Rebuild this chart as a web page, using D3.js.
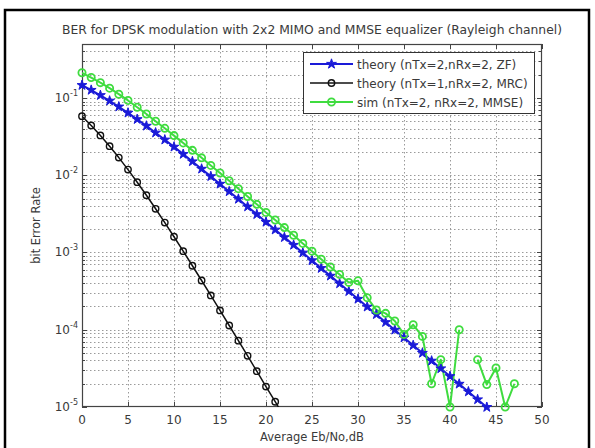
<!DOCTYPE html>
<html><head><meta charset="utf-8">
<script src="https://cdn.jsdelivr.net/npm/d3@7"></script>
<style>
body{margin:0;background:#fff}
svg{display:block}
text{font-family:"DejaVu Sans","Liberation Sans",Arial,sans-serif;fill:#3a3a3a}
</style>
</head><body>
<svg id="chart" width="595" height="448"></svg>
<script>
// ---- data ----
const titleText = "BER for DPSK modulation with 2x2 MIMO and MMSE equalizer (Rayleigh channel)";
const xLabelText = "Average Eb/No,dB";
const yLabelText = "bit Error Rate";
const seriesNames = ["theory (nTx=2,nRx=2, ZF)", "theory (nTx=1,nRx=2, MRC)", "sim (nTx=2, nRx=2, MMSE)"];
const seriesColors = ["#1a1ad8", "#111111", "#3fdc3f"];

const ebnoZF = [0,1,2,3,4,5,6,7,8,9,10,11,12,13,14,15,16,17,18,19,20,21,22,23,24,25,26,27,28,29,30,31,32,33,34,35,36,37,38,39,40,41,42,43,44];
const berZF = [0.1464,0.1267,0.1085,0.0919,0.0771,0.0642,0.0530,0.0435,0.0355,0.0288,0.0233,0.01875,0.01507,0.01208,0.00967,0.00772,0.00616,0.00492,0.00392,0.00312,0.00248,0.00197,0.00157,0.00125,0.000992,0.000789,0.000626,0.000498,0.000396,0.000314,0.000250,0.000198,0.000158,0.000125,0.0000995,0.0000790,0.0000628,0.0000499,0.0000396,0.0000315,0.0000250,0.0000199,0.0000158,0.0000125,0.00000995];

const ebnoMRC = [0,1,2,3,4,5,6,7,8,9,10,11,12,13,14,15,16,17,18,19,20,21,22];
const berMRC = [0.0581,0.0441,0.0328,0.0238,0.01693,0.01183,0.00813,0.00551,0.00368,0.00244,0.00160,0.00104,0.000674,0.000434,0.000278,0.000178,0.0001135,0.0000722,0.0000459,0.0000291,0.0000184,0.0000117,0.0000074];

const ebnoMMSE = [0,1,2,3,4,5,6,7,8,9,10,11,12,13,14,15,16,17,18,19,20,21,22,23,24,25,26,27,28,29,30,31,32,33,34,35,36,37,38,39,40,41,42,43,44,45,46,47];
const berMMSE = [0.212,0.184,0.158,0.134,0.112,0.093,0.076,0.062,0.050,0.0405,0.0326,0.0262,0.0210,0.0168,0.0134,0.0107,0.0085,0.0067,0.0053,0.0042,0.0033,0.00263,0.00210,0.00167,0.00131,0.00104,0.00082,0.00065,0.00052,0.00041,0.00043,0.00026,0.00018,0.000163,0.00013,0.000087,0.000116,0.000082,0.00002,0.000041,0.00001,0.0001,null,0.000041,0.0000195,0.000032,0.00001,0.00002];

const xTickValues = [0,5,10,15,20,25,30,35,40,45,50];
const yTickExponents = [-5,-4,-3,-2,-1];
const yDomain = [1e-5, 0.5];
const xDomain = [0, 50];

// ---- layout ----
const svg = d3.select("#chart");
const L = 82, R = 542, T = 44, B = 407;
const x = d3.scaleLinear(xDomain, [L, R]);
const y = d3.scaleLog(yDomain, [B, T]);

// outer frame
svg.append("rect").attr("x",5).attr("y",10).attr("width",584).attr("height",460)
  .attr("fill","#fff").attr("stroke","#000").attr("stroke-width",2.5);

// plot background
svg.append("rect").attr("x",L).attr("y",T).attr("width",R-L).attr("height",B-T).attr("fill","#fff");

// grid
const grid = svg.append("g").attr("stroke","#9a9a9a").attr("stroke-width",1).attr("stroke-dasharray","1.5,2.5").attr("fill","none");
xTickValues.slice(1,-1).forEach(v=>{
  grid.append("line").attr("x1",Math.round(x(v))+0.5).attr("x2",Math.round(x(v))+0.5).attr("y1",T).attr("y2",B);
});
const minorVals = [];
yTickExponents.forEach(e=>{ for(let k=1;k<10;k++){ const v=k*Math.pow(10,e); if(v>=yDomain[0]&&v<=yDomain[1]) minorVals.push(v);} });
minorVals.forEach(v=>{
  if (v<=yDomain[0]) return;
  grid.append("line").attr("x1",L).attr("x2",R).attr("y1",Math.round(y(v))+0.5).attr("y2",Math.round(y(v))+0.5);
});

// ticks
const tk = svg.append("g").attr("stroke","#444").attr("stroke-width",1);
xTickValues.forEach(v=>{
  const px = Math.round(x(v))+0.5;
  tk.append("line").attr("x1",px).attr("x2",px).attr("y1",B).attr("y2",B-5);
  tk.append("line").attr("x1",px).attr("x2",px).attr("y1",T).attr("y2",T+5);
});
minorVals.forEach(v=>{
  const py = Math.round(y(v))+0.5;
  const major = Math.abs(Math.log10(v)-Math.round(Math.log10(v)))<1e-9;
  const len = major?5:3;
  tk.append("line").attr("x1",L).attr("x2",L+len).attr("y1",py).attr("y2",py);
  tk.append("line").attr("x1",R).attr("x2",R-len).attr("y1",py).attr("y2",py);
});

// axes box
svg.append("rect").attr("x",L+0.5).attr("y",T+0.5).attr("width",R-L-1).attr("height",B-T-1)
  .attr("fill","none").attr("stroke","#444").attr("stroke-width",1.2);

// tick labels
xTickValues.forEach(v=>{
  svg.append("text").attr("x",x(v)).attr("y",B+17).attr("text-anchor","middle")
    .attr("font-size",12).text(v);
});
yTickExponents.forEach(e=>{
  const t = svg.append("text").attr("x",L-4).attr("y",y(Math.pow(10,e))+4).attr("text-anchor","end").attr("font-size",12);
  t.append("tspan").text("10");
  t.append("tspan").attr("font-size",8).attr("dy",-6).text(String(e));
});

// labels
svg.append("text").attr("x",(L+R)/2).attr("y",441).attr("text-anchor","middle").attr("font-size",11.5).text(xLabelText);
svg.append("text").attr("transform",`translate(40,${(T+B)/2}) rotate(-90)`).attr("text-anchor","middle").attr("font-size",11.5).text(yLabelText);
svg.append("text").attr("x",(L+R)/2).attr("y",33.5).attr("text-anchor","middle").attr("font-size",11.5)
  .attr("textLength",500).attr("lengthAdjust","spacingAndGlyphs").text(titleText);

// clip
svg.append("clipPath").attr("id","plotclip").append("rect").attr("x",L).attr("y",T).attr("width",R-L).attr("height",B-T);

const line = d3.line().defined(d=>d[1]!=null && d[1]>0).x(d=>x(d[0])).y(d=>y(d[1]));
const series = [
  {xs:ebnoZF, ys:berZF, color:seriesColors[0], lw:2, marker:"star"},
  {xs:ebnoMRC, ys:berMRC, color:seriesColors[1], lw:1.5, marker:"circle"},
  {xs:ebnoMMSE, ys:berMMSE, color:seriesColors[2], lw:2, marker:"circle"}
];
const starPath = d3.symbol(d3.symbolStar, 30)();
function drawMarker(g, s, cx, cy){
  if (s.marker==="star"){
    g.append("path").attr("d",starPath).attr("transform",`translate(${cx},${cy})`)
      .attr("fill",s.color).attr("stroke",s.color).attr("stroke-width",1);
  } else {
    g.append("circle").attr("cx",cx).attr("cy",cy).attr("r",s.color===seriesColors[2]?3.6:3.2)
      .attr("fill","none").attr("stroke",s.color).attr("stroke-width",s.color===seriesColors[2]?1.8:1.4);
  }
}
const plotG = svg.append("g").attr("clip-path","url(#plotclip)");
series.forEach(s=>{
  const pts = s.xs.map((v,i)=>[v,s.ys[i]]);
  plotG.append("path").datum(pts).attr("d",line).attr("fill","none").attr("stroke",s.color).attr("stroke-width",s.lw).attr("stroke-linejoin","round");
});
const markG = svg.append("g");
series.forEach(s=>{
  s.xs.forEach((v,i)=>{
    const b = s.ys[i];
    if (b==null || b < yDomain[0]*0.98) return;
    drawMarker(markG, s, x(v), y(b));
  });
});

// legend
const lg = svg.append("g");
lg.append("rect").attr("x",303.5).attr("y",52.5).attr("width",231).attr("height",61).attr("fill","#fff").attr("stroke","#333").attr("stroke-width",1);
const rows = [64, 83, 102];
series.forEach((s,i)=>{
  lg.append("line").attr("x1",310).attr("x2",353).attr("y1",rows[i]).attr("y2",rows[i]).attr("stroke",s.color).attr("stroke-width",s.lw);
  drawMarker(lg, s, 331.5, rows[i]);
  lg.append("text").attr("x",357).attr("y",rows[i]+4.5).attr("font-size",12).text(seriesNames[i]);
});
</script>
</body></html>
